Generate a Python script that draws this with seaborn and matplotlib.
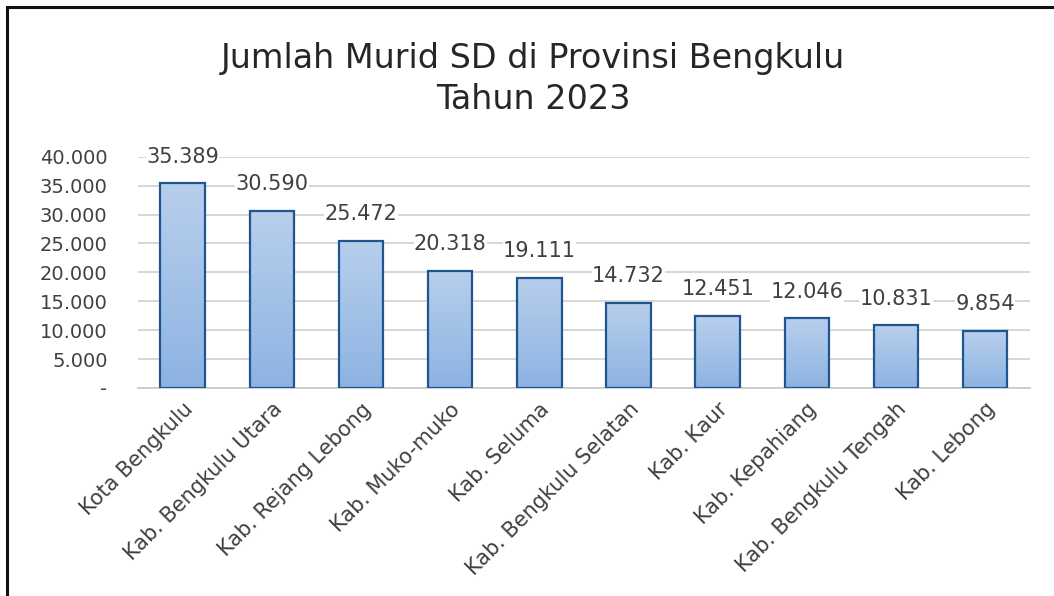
import numpy as np
import pandas as pd
import matplotlib
matplotlib.use("Agg")
import matplotlib.pyplot as plt
import matplotlib.transforms as mtransforms
import seaborn as sns
from matplotlib.colors import LinearSegmentedColormap
from matplotlib.patches import Rectangle

categories = ["Kota Bengkulu", "Kab. Bengkulu Utara", "Kab. Rejang Lebong", "Kab. Muko-muko",
              "Kab. Seluma", "Kab. Bengkulu Selatan", "Kab. Kaur", "Kab. Kepahiang",
              "Kab. Bengkulu Tengah", "Kab. Lebong"]
values = [35389, 30590, 25472, 20318, 19111, 14732, 12451, 12046, 10831, 9854]
y_ticks = [0, 5000, 10000, 15000, 20000, 25000, 30000, 35000, 40000]
title = "Jumlah Murid SD di Provinsi Bengkulu\nTahun 2023"

sns.set_theme(style="white")
plt.rcParams['font.family'] = ['DejaVu Sans']

def fmt(v):
    return "-" if v == 0 else f"{v:,.0f}".replace(",", ".")

df = pd.DataFrame({"kab": categories, "murid": values})

fig = plt.figure(figsize=(10.54, 5.96), dpi=100)
ax = fig.add_axes([0.131, 0.349, 0.846, 0.388])

sns.barplot(data=df, x="kab", y="murid", color="#9dbde6", width=0.5, ax=ax,
            edgecolor="#1f5590", linewidth=1.6, saturation=1)

cmap = LinearSegmentedColormap.from_list("g", ["#8db3e2", "#b8cfec"])
grad = np.linspace(0, 1, 256).reshape(-1, 1)
for p in ax.patches:
    x0, y0 = p.get_x(), p.get_y()
    w, h = p.get_width(), p.get_height()
    im = ax.imshow(grad, cmap=cmap, origin="lower", aspect="auto",
                   extent=[x0, x0 + w, y0, y0 + h], zorder=p.get_zorder() - 0.1)
    im.set_clip_path(p)
    p.set_facecolor("none")
    p.set_zorder(3)
ax.set_ylim(0, 40000)
ax.set_xlim(-0.5, len(categories) - 0.5)

ax.set_yticks(y_ticks)
ax.set_yticklabels([fmt(v) for v in y_ticks], fontsize=14, color="#404040")
ax.set_xticks(range(len(categories)))
ax.set_xticklabels(categories, rotation=45, ha="right", rotation_mode="anchor",
                   fontsize=15, color="#404040")
shift = mtransforms.ScaledTranslation(8 / 100, 0, fig.dpi_scale_trans)
for lab in ax.get_xticklabels():
    lab.set_transform(lab.get_transform() + shift)
ax.tick_params(axis="x", length=0, pad=8)
ax.tick_params(axis="y", length=0, pad=22)
ax.grid(axis="y", color="#d0d0d0", linewidth=1.2)
ax.set_axisbelow(True)
for s in ["top", "right", "left"]:
    ax.spines[s].set_visible(False)
ax.spines["bottom"].set_color("#c8c8c8")
ax.spines["bottom"].set_linewidth(1.2)
ax.set_xlabel("")
ax.set_ylabel("")

for i, v in enumerate(values):
    ax.annotate(fmt(v), (i, v), xytext=(0, 12), textcoords="offset points",
                ha="center", va="bottom", fontsize=15, color="#404040", zorder=5,
                bbox=dict(facecolor="white", edgecolor="none", pad=0.2))

fig.text(0.506, 0.868, title, ha="center", va="center", fontsize=24,
         color="#262626", linespacing=1.3)

fig.patches.append(Rectangle((7 / 1054, -0.05), 1.1, 1 - 7 / 596 + 0.05,
                             transform=fig.transFigure, fill=False,
                             edgecolor="#111111", linewidth=2.2))

fig.savefig("out.png", dpi=100)
